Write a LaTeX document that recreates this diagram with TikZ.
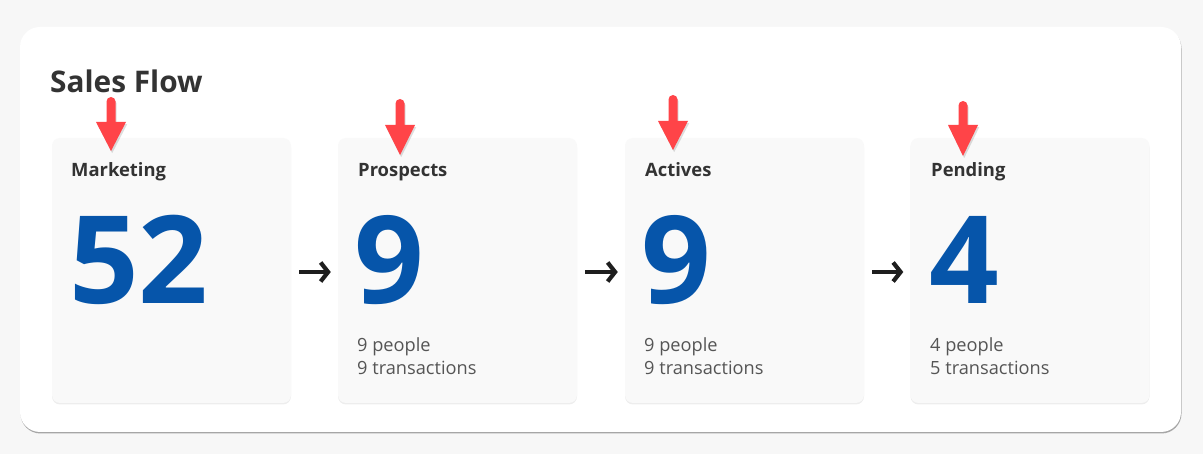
\documentclass[tikz,border=0pt]{standalone}
\usepackage{fontspec}
\setmainfont{Open Sans}
\usetikzlibrary{arrows.meta,shadows}
\definecolor{pagebg}{RGB}{247,247,247}
\definecolor{cardbg}{RGB}{249,249,249}
\definecolor{darktext}{RGB}{51,51,51}
\definecolor{bodytext}{RGB}{85,85,85}
\definecolor{numblue}{RGB}{6,85,170}
\definecolor{ptrred}{RGB}{255,68,72}
\definecolor{flowblack}{RGB}{30,30,30}
\newcommand\salesptrpath[4]{(#1-4.5,#3) -- (#1-4.5,#2+4.5) arc[start angle=180,end angle=0,radius=4.5pt] -- (#1+4.5,#3) -- (#1+15,#3) -- (#1,#4) -- (#1-15,#3) -- cycle}
\newcommand\salesptr[4]{%
  \fill[black,opacity=0.13,shift={(1.2,2.2)}] \salesptrpath{#1}{#2}{#3}{#4};
  \fill[ptrred] \salesptrpath{#1}{#2}{#3}{#4};
}
\tikzset{
  card/.style={fill=cardbg, rounded corners=8pt, minimum width=239pt, minimum height=265pt, inner sep=0pt,
    drop shadow={shadow xshift=0pt, shadow yshift=-1.5pt, opacity=0.07, fill=black}},
  cardtitle/.style={anchor=base west, inner sep=0pt, text=darktext, font=\fontsize{18.4}{22}\selectfont\bfseries},
  bignum/.style={anchor=base west, inner sep=0pt, text=numblue, font=\fontsize{122}{130}\selectfont\bfseries},
  body/.style={anchor=base west, inner sep=0pt, text=bodytext, font=\fontsize{18.2}{22}\selectfont},
  flow/.style={draw=flowblack, line width=4.2pt, -{Straight Barb[length=7.5pt,width=19pt]}},
}
\begin{document}
\begin{tikzpicture}[x=1pt,y=-1pt]
\useasboundingbox (0,0) rectangle (1203,454);
\fill[pagebg] (0,0) rectangle (1203,454);
% outer panel
\fill[black!35, rounded corners=20pt] (20.5,28.5) rectangle (1181.5,433.5);
\fill[white, rounded corners=20pt] (20,27) rectangle (1181,432);
\node[anchor=base west, inner sep=0pt, text=darktext, font=\fontsize{29.8}{36}\selectfont\bfseries] (title) at (50,93) {Sales Flow};
% cards
\node[card] (c1) at (171.5,270.5) {};
\node[card] (c2) at (457.5,270.5) {};
\node[card] (c3) at (744.5,270.5) {};
\node[card] (c4) at (1030,270.5) {};
% titles
\node[cardtitle] (t1) at (71,177) {Marketing};
\node[cardtitle] (t2) at (358,177) {Prospects};
\node[cardtitle] (t3) at (645,177) {Actives};
\node[cardtitle] (t4) at (931,177) {Pending};
% numbers
\node[bignum] (n1) at (69,304) {52};
\node[bignum] (n2) at (354,304) {9};
\node[bignum] (n3) at (641,304) {9};
\node[bignum] (n4) at (929,304) {4};
% details
\node[body] (p2) at (357,352) {9 people};
\node[body] (x2) at (357,375) {9 transactions};
\node[body] (p3) at (644,352) {9 people};
\node[body] (x3) at (644,375) {9 transactions};
\node[body] (p4) at (930,352) {4 people};
\node[body] (x4) at (930,375) {5 transactions};
% flow arrows
\draw[flow] ([xshift=8pt,yshift=-1.5pt]c1.east) -- ([xshift=-7pt,yshift=-1.5pt]c2.west);
\draw[flow] ([xshift=8pt,yshift=-1.5pt]c2.east) -- ([xshift=-7pt,yshift=-1.5pt]c3.west);
\draw[flow] ([xshift=8pt,yshift=-1.5pt]c3.east) -- ([xshift=-7pt,yshift=-1.5pt]c4.west);
% red pointers
\salesptr{111}{97}{122}{151}
\salesptr{400}{99}{125}{155}
\salesptr{673}{95}{121}{150}
\salesptr{963}{101}{125}{156}
\end{tikzpicture}
\end{document}
